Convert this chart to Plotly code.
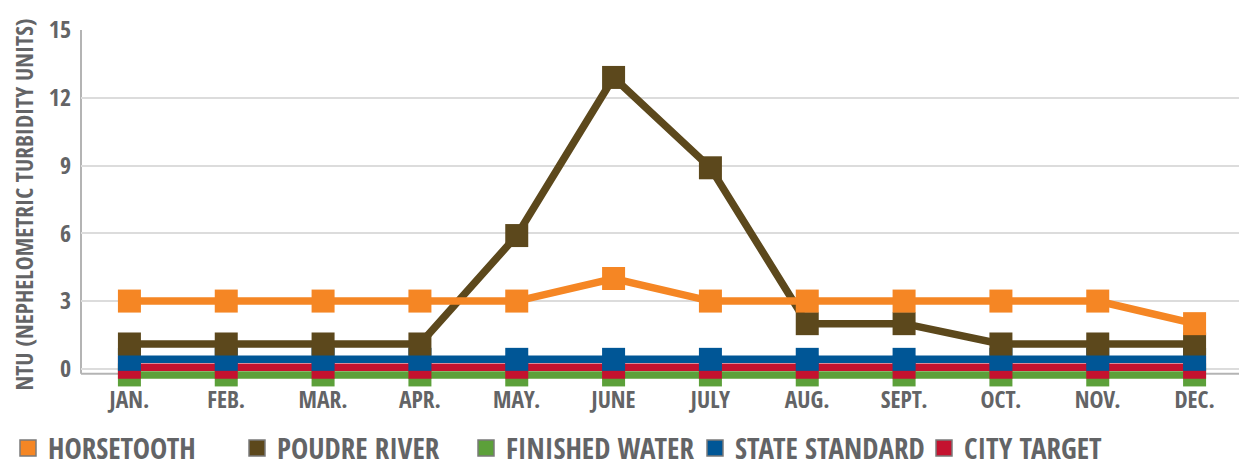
import plotly.graph_objects as go

months = ["JAN.", "FEB.", "MAR.", "APR.", "MAY.", "JUNE", "JULY", "AUG.", "SEPT.", "OCT.", "NOV.", "DEC."]
horsetooth = [3, 3, 3, 3, 3, 4, 3, 3, 3, 3, 3, 2]
poudre_river = [1.1, 1.1, 1.1, 1.1, 5.9, 12.9, 8.9, 2, 2, 1.1, 1.1, 1.1]
finished_water = [-0.27] * 12
city_target = [0.07] * 12
state_standard = [0.42] * 12
y_ticks = [0, 3, 6, 9, 12, 15]
y_base = -0.22

FONT = "Open Sans Condensed, DejaVu Sans Condensed, sans-serif"
GRAY = "#636466"
AXIS = "#b4b4b4"

C_ORANGE = "#F58624"
C_BROWN = "#5C481C"
C_GREEN = "#5CA03A"
C_BLUE = "#005696"
C_RED = "#C4122F"

fig = go.Figure()

# plotting order (bottom to top)
series = [
    ("FINISHED WATER", finished_water, C_GREEN),
    ("CITY TARGET", city_target, C_RED),
    ("STATE STANDARD", state_standard, C_BLUE),
    ("POUDRE RIVER", poudre_river, C_BROWN),
    ("HORSETOOTH", horsetooth, C_ORANGE),
]
for name, vals, col in series:
    fig.add_trace(go.Scatter(
        x=months, y=vals, name=name, mode="lines+markers",
        line=dict(color=col, width=7.5),
        marker=dict(symbol="square", size=23, color=col),
        cliponaxis=False, showlegend=False,
    ))

# legend entries (square swatches)
legend_order = [
    ("HORSETOOTH", C_ORANGE),
    ("POUDRE RIVER", C_BROWN),
    ("FINISHED WATER", C_GREEN),
    ("STATE STANDARD", C_BLUE),
    ("CITY TARGET", C_RED),
]
for name, col in legend_order:
    fig.add_trace(go.Scatter(
        x=[None], y=[None], name=name, mode="markers",
        marker=dict(symbol="square", size=20, color=col, line=dict(color="#7a7a7a", width=1.5)),
        showlegend=True,
    ))

# axis base lines (drawn beneath the series)
fig.add_shape(type="line", xref="paper", yref="y", x0=0, x1=1, y0=y_base, y1=y_base,
              line=dict(color=AXIS, width=2), layer="between")
fig.add_shape(type="line", xref="paper", yref="y", x0=0, x1=0, y0=y_base, y1=max(y_ticks),
              line=dict(color=AXIS, width=2), layer="between")

fig.update_layout(
    width=1239, height=459,
    margin=dict(l=73, r=4, t=16, b=88),
    paper_bgcolor="white", plot_bgcolor="white",
    font=dict(family=FONT, color=GRAY, size=24),
    showlegend=True,
    legend=dict(
        orientation="h", xref="container", yref="container",
        x=0, xanchor="left", y=0.041, yanchor="middle",
        font=dict(family=FONT, size=29, color=GRAY, weight="bold"),
        itemwidth=30, entrywidth=184, entrywidthmode="pixels",
        traceorder="normal", bgcolor="rgba(0,0,0,0)",
    ),
    xaxis=dict(
        type="category", range=[-0.5, len(months) - 0.5], showgrid=False, showline=False,
        ticks="", tickfont=dict(family=FONT, size=23.5, color=GRAY, weight="bold"),
        ticklabelstandoff=4, zeroline=False,
    ),
    yaxis=dict(
        range=[-0.45, 15], tickvals=y_ticks, showgrid=True, gridcolor="#dcdcdc", gridwidth=2,
        showline=False, zeroline=False, ticks="",
        tickfont=dict(family=FONT, size=24, color=GRAY, weight="bold"),
        ticklabelstandoff=9, ticklabeloverflow="allow",
        title=dict(text="NTU (NEPHELOMETRIC TURBIDITY UNITS)", standoff=18,
                   font=dict(family=FONT, size=23.5, color=GRAY, weight="bold")),
    ),
)

fig.write_html("out.html")
